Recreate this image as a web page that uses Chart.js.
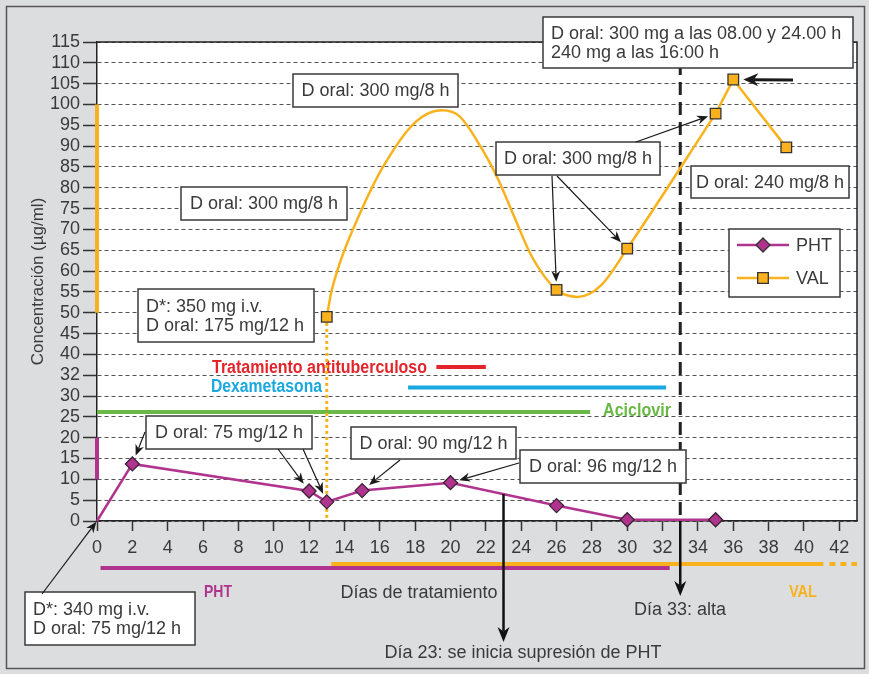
<!DOCTYPE html>
<html>
<head>
<meta charset="utf-8">
<script src="https://cdn.jsdelivr.net/npm/chart.js@4/dist/chart.umd.min.js"></script>
<style>
  html, body { margin: 0; padding: 0; background: #dcdddf; }
  canvas { display: block; }
</style>
</head>
<body>
<canvas id="levelsChart" width="869" height="674"></canvas>
<script>
// niveles plasmáticos (µg/ml) por día de tratamiento
const phtDays = [0, 2, 12, 13, 15, 20, 26, 30, 35];
const phtLevels = [0, 13.7, 7.2, 4.6, 7.3, 9.2, 3.7, 0.3, 0.3];
const valDays = [13, 26, 30, 35, 36, 39];
const valLevels = [49, 55.5, 65.4, 97.8, 106, 89.7];
// trazado de la curva de VAL entre determinaciones
const valCurveDays = [13, 13.25, 13.8, 14.8, 16.1, 18, 19.5, 20.5, 21.8, 22.7, 23.6, 24.6, 26, 27.2, 28.5, 30, 35];
const valCurveLevels = [49, 54.8, 62.7, 73.1, 84.4, 95.7, 98.6, 97.2, 89.2, 82, 73.1, 63.5, 55.5, 53.8, 56.5, 65.4, 97.8];

const yTickLabels = ['0', '5', '10', '15', '20', '25', '30', '32', '40', '45', '50', '55', '60', '65', '70', '75', '80', '85', '90', '95', '100', '105', '110', '115'];

// márgenes terapéuticos
const phtRange = [10, 20];
const valRange = [50, 100];

// tratamientos concomitantes (días)
const treatments = ['Tratamiento antituberculoso', 'Dexametasona', 'Aciclovir'];
const treatStart = [19.2, 17.6, 0];
const treatEnd = [22.0, 32.2, 27.9];

// periodos de administración
const phtPeriod = [0.2, 32.4];
const valPeriod = [13.25, 41.1, 43];

const eventDays = [23, 33];
const eventLabels = ['Día 23: se inicia supresión de PHT', 'Día 33: alta'];

const phtColor = '#b0348e';
const valColor = '#f9b21d';
const textColor = '#3a3a3a';
const FONT = '"Liberation Sans", Arial, sans-serif';

const treatStyle = [
    { color: '#e4242b', y: 367, labelX: 427, labelY: 368, align: 'right', w: 215 },
    { color: '#1aa8e0', y: 387.5, labelX: 211, labelY: 387, align: 'left', w: 111 },
    { color: '#6ab845', y: 412, labelX: 603, labelY: 411.5, align: 'left', w: 68 }
];

const boxes = [
    { x: 25, y: 592, w: 170, h: 53, lines: ['D*: 340 mg i.v.', 'D oral: 75 mg/12 h'] },
    { x: 138, y: 289, w: 176, h: 53, lines: ['D*: 350 mg i.v.', 'D oral: 175 mg/12 h'] },
    { x: 181, y: 187, w: 166, h: 33, lines: ['D oral: 300 mg/8 h'] },
    { x: 293, y: 74, w: 165, h: 33, lines: ['D oral: 300 mg/8 h'] },
    { x: 496, y: 142, w: 164, h: 33, lines: ['D oral: 300 mg/8 h'] },
    { x: 543, y: 17, w: 310, h: 51, lines: ['D oral: 300 mg a las 08.00 y 24.00 h', '240 mg a las 16:00 h'] },
    { x: 691, y: 166, w: 158, h: 32, lines: ['D oral: 240 mg/8 h'] },
    { x: 146, y: 416, w: 166, h: 33, lines: ['D oral: 75 mg/12 h'] },
    { x: 351, y: 427, w: 165, h: 32, lines: ['D oral: 90 mg/12 h'] },
    { x: 520, y: 450, w: 166, h: 33, lines: ['D oral: 96 mg/12 h'] }
];

// flechas: desde el recuadro hasta el punto señalado
const arrows = [
    { from: [42, 594], s: 'pht', i: 0, gap: 1 },
    { from: [145, 432], s: 'pht', i: 1, gap: 9 },
    { from: [278, 449], s: 'pht', i: 2, gap: 9 },
    { from: [303, 449], s: 'pht', i: 3, gap: 9 },
    { from: [400, 460], s: 'pht', i: 4, gap: 9 },
    { from: [519, 463], s: 'pht', i: 5, gap: 9 },
    { from: [552, 176], s: 'val', i: 1, gap: 8 },
    { from: [557, 176], s: 'val', i: 2, gap: 9 },
    { from: [636, 142], s: 'val', i: 3, gap: 8 },
    { from: [793, 80], s: 'val', i: 4, gap: 10, thick: true }
];

function pts(xs, ys) {
    return xs.map((d, i) => ({ x: d, y: ys[i] }));
}

function drawArrow(ctx, x1, y1, x2, y2, lw, len, half) {
    const a = Math.atan2(y2 - y1, x2 - x1);
    const c = Math.cos(a), s = Math.sin(a);
    ctx.lineWidth = lw;
    ctx.beginPath();
    ctx.moveTo(x1, y1);
    ctx.lineTo(x2 - c * len * 0.7, y2 - s * len * 0.7);
    ctx.stroke();
    ctx.beginPath();
    ctx.moveTo(x2, y2);
    ctx.lineTo(x2 - c * len - s * half, y2 - s * len + c * half);
    ctx.lineTo(x2 - c * len * 0.7, y2 - s * len * 0.7);
    ctx.lineTo(x2 - c * len + s * half, y2 - s * len - c * half);
    ctx.closePath();
    ctx.fill();
}

function fitText(ctx, text, x, y, width, align) {
    const m = ctx.measureText(text).width;
    const k = width ? width / m : 1;
    ctx.save();
    ctx.translate(x, y);
    ctx.scale(k, 1);
    ctx.textAlign = align;
    ctx.fillText(text, 0, 0);
    ctx.restore();
}

const overlay = {
    id: 'overlay',
    beforeDraw(chart) {
        const { ctx, chartArea: a } = chart;
        ctx.save();
        ctx.fillStyle = '#dcdddf';
        ctx.fillRect(0, 0, chart.width, chart.height);
        ctx.strokeStyle = '#555';
        ctx.lineWidth = 1.5;
        ctx.strokeRect(6.5, 6.5, 858, 662);
        ctx.fillStyle = '#ffffff';
        ctx.fillRect(a.left, a.top, a.right - a.left, a.bottom - a.top);
        ctx.restore();
    },
    beforeDatasetsDraw(chart) {
        const { ctx, chartArea: a } = chart;
        const xs = chart.scales.x, ys = chart.scales.y;
        ctx.save();
        // marco superior y derecho
        ctx.strokeStyle = '#222';
        ctx.lineWidth = 1.5;
        ctx.beginPath();
        ctx.moveTo(a.left, a.top);
        ctx.lineTo(a.right, a.top);
        ctx.lineTo(a.right, a.bottom);
        ctx.stroke();

        // márgenes terapéuticos sobre el eje
        ctx.lineWidth = 4;
        ctx.strokeStyle = valColor;
        ctx.beginPath();
        ctx.moveTo(a.left, ys.getPixelForValue(valRange[1]));
        ctx.lineTo(a.left, ys.getPixelForValue(valRange[0]));
        ctx.stroke();
        ctx.strokeStyle = phtColor;
        ctx.beginPath();
        ctx.moveTo(a.left, ys.getPixelForValue(phtRange[1]));
        ctx.lineTo(a.left, ys.getPixelForValue(phtRange[0]));
        ctx.stroke();

        // tratamientos concomitantes
        treatments.forEach((name, i) => {
            const st = treatStyle[i];
            ctx.strokeStyle = st.color;
            ctx.lineWidth = 4;
            ctx.beginPath();
            ctx.moveTo(xs.getPixelForValue(treatStart[i]), st.y);
            ctx.lineTo(xs.getPixelForValue(treatEnd[i]), st.y);
            ctx.stroke();
            ctx.fillStyle = st.color;
            ctx.font = 'bold 18px ' + FONT;
            ctx.textBaseline = 'middle';
            fitText(ctx, name, st.labelX, st.labelY, st.w, st.align);
        });

        // línea punteada en el inicio de VAL
        ctx.strokeStyle = valColor;
        ctx.lineWidth = 3;
        ctx.setLineDash([3, 3]);
        ctx.beginPath();
        ctx.moveTo(xs.getPixelForValue(valDays[0]), ys.getPixelForValue(valLevels[0]));
        ctx.lineTo(xs.getPixelForValue(valDays[0]), a.bottom);
        ctx.stroke();

        // alta: línea discontinua
        const xAlta = xs.getPixelForValue(eventDays[1]);
        ctx.strokeStyle = '#222';
        ctx.setLineDash([13, 7]);
        ctx.beginPath();
        ctx.moveTo(xAlta, a.top);
        ctx.lineTo(xAlta, a.bottom);
        ctx.stroke();
        ctx.setLineDash([]);
        ctx.restore();
    },
    afterDatasetsDraw(chart) {
        const { ctx, chartArea: a } = chart;
        const xs = chart.scales.x, ys = chart.scales.y;
        ctx.save();
        ctx.textBaseline = 'middle';

        // periodos de administración bajo el eje
        ctx.lineWidth = 4;
        ctx.strokeStyle = phtColor;
        ctx.beginPath();
        ctx.moveTo(xs.getPixelForValue(phtPeriod[0]), 568);
        ctx.lineTo(xs.getPixelForValue(phtPeriod[1]), 568);
        ctx.stroke();
        ctx.strokeStyle = valColor;
        ctx.beginPath();
        ctx.moveTo(xs.getPixelForValue(valPeriod[0]), 564);
        ctx.lineTo(xs.getPixelForValue(valPeriod[1]), 564);
        ctx.stroke();
        ctx.setLineDash([6, 5]);
        ctx.beginPath();
        ctx.moveTo(xs.getPixelForValue(valPeriod[1]) + 6, 564);
        ctx.lineTo(xs.getPixelForValue(valPeriod[2]), 564);
        ctx.stroke();
        ctx.setLineDash([]);

        ctx.font = 'bold 17px ' + FONT;
        ctx.fillStyle = phtColor;
        fitText(ctx, 'PHT', 218, 592, 28, 'center');
        ctx.fillStyle = valColor;
        fitText(ctx, 'VAL', 803, 592, 28, 'center');

        // títulos de ejes
        ctx.fillStyle = textColor;
        ctx.font = '18px ' + FONT;
        ctx.textAlign = 'center';
        ctx.fillText('Días de tratamiento', 419, 593);
        ctx.save();
        ctx.translate(38, (a.top + a.bottom) / 2);
        ctx.rotate(-Math.PI / 2);
        ctx.font = '17px ' + FONT;
        ctx.fillText('Concentración (µg/ml)', 0, 0);
        ctx.restore();

        // eventos: supresión de PHT y alta
        ctx.strokeStyle = '#111';
        ctx.fillStyle = '#111';
        const x23 = xs.getPixelForValue(eventDays[0]);
        drawArrow(ctx, x23, 494, x23, 642, 2.5, 15, 6);
        const x33 = xs.getPixelForValue(eventDays[1]);
        drawArrow(ctx, x33, a.bottom, x33, 596, 2.5, 15, 6);
        ctx.fillStyle = textColor;
        ctx.font = '18px ' + FONT;
        ctx.textAlign = 'center';
        ctx.fillText(eventLabels[0], 523, 653);
        ctx.fillText(eventLabels[1], 680, 610);

        // recuadros de dosis
        ctx.font = '18px ' + FONT;
        boxes.forEach(b => {
            ctx.fillStyle = '#ffffff';
            ctx.fillRect(b.x, b.y, b.w, b.h);
            ctx.strokeStyle = '#3a3a3a';
            ctx.lineWidth = 1.5;
            ctx.strokeRect(b.x, b.y, b.w, b.h);
            ctx.fillStyle = textColor;
            if (b.lines.length === 1) {
                ctx.textAlign = 'center';
                ctx.fillText(b.lines[0], b.x + b.w / 2, b.y + b.h / 2 + 1);
            } else {
                ctx.textAlign = 'left';
                const lh = 18.5;
                const y0 = b.y + b.h / 2 - lh / 2 + 1;
                b.lines.forEach((t, k) => ctx.fillText(t, b.x + 8, y0 + k * lh));
            }
        });

        // flechas
        ctx.strokeStyle = '#1a1a1a';
        ctx.fillStyle = '#1a1a1a';
        arrows.forEach(ar => {
            const days = ar.s === 'pht' ? phtDays : valDays;
            const lv = ar.s === 'pht' ? phtLevels : valLevels;
            const px = xs.getPixelForValue(days[ar.i]);
            const py = ys.getPixelForValue(lv[ar.i]);
            const dx = px - ar.from[0], dy = py - ar.from[1];
            const d = Math.hypot(dx, dy);
            const tx = px - dx / d * ar.gap, ty = py - dy / d * ar.gap;
            if (ar.thick) drawArrow(ctx, ar.from[0], ar.from[1], tx, ty, 3, 15, 6.5);
            else drawArrow(ctx, ar.from[0], ar.from[1], tx, ty, 1.2, 11, 4.5);
        });

        // leyenda
        const L = { x: 729, y: 229, w: 111, h: 68 };
        ctx.fillStyle = '#ffffff';
        ctx.fillRect(L.x, L.y, L.w, L.h);
        ctx.strokeStyle = '#3a3a3a';
        ctx.lineWidth = 1.5;
        ctx.strokeRect(L.x, L.y, L.w, L.h);
        const rows = [
            { label: 'PHT', color: phtColor, style: 'rectRot', r: 7, y: 245 },
            { label: 'VAL', color: valColor, style: 'rect', r: 7.5, y: 278 }
        ];
        rows.forEach(r => {
            ctx.strokeStyle = r.color;
            ctx.lineWidth = 2.5;
            ctx.beginPath();
            ctx.moveTo(737, r.y);
            ctx.lineTo(789, r.y);
            ctx.stroke();
            ctx.fillStyle = r.color;
            ctx.strokeStyle = '#333';
            ctx.lineWidth = 1.3;
            Chart.helpers.drawPoint(ctx, { pointStyle: r.style, rotation: 0, radius: r.r, borderWidth: 1.3 }, 763, r.y);
            ctx.fillStyle = textColor;
            ctx.font = '18px ' + FONT;
            ctx.textAlign = 'left';
            ctx.fillText(r.label, 796, r.y + 1);
        });
        ctx.restore();
    }
};

Chart.defaults.font.family = FONT;

const ctx = document.getElementById('levelsChart').getContext('2d');
const levelsChart = new Chart(ctx, {
    type: 'line',
    data: {
        datasets: [
            {
                label: 'VAL',
                data: pts(valDays, valLevels),
                showLine: false,
                pointStyle: 'rect',
                pointRadius: 7.5,
                pointBackgroundColor: valColor,
                pointBorderColor: '#333',
                pointBorderWidth: 1.3,
                clip: false
            },
            {
                label: 'PHT',
                data: pts(phtDays, phtLevels),
                borderColor: phtColor,
                borderWidth: 2.5,
                tension: 0,
                pointStyle: 'rectRot',
                pointRadius: c => (c.dataIndex === 0 ? 0 : 7),
                pointBackgroundColor: phtColor,
                pointBorderColor: '#3a2335',
                pointBorderWidth: 1.3,
                clip: false
            },
            {
                label: 'VAL curva',
                data: pts(valCurveDays, valCurveLevels),
                borderColor: valColor,
                borderWidth: 2.5,
                pointRadius: 0,
                cubicInterpolationMode: 'monotone'
            },
            {
                label: 'VAL final',
                data: pts(valDays.slice(3), valLevels.slice(3)),
                borderColor: valColor,
                borderWidth: 2.5,
                pointRadius: 0,
                tension: 0
            }
        ]
    },
    options: {
        responsive: false,
        animation: false,
        layout: { padding: { top: 42, right: 12, left: 0, bottom: 0 } },
        plugins: {
            legend: { display: false },
            tooltip: { enabled: false }
        },
        scales: {
            x: {
                type: 'linear',
                min: 0,
                max: 43,
                afterFit: s => { s.height = 153; },
                border: { color: '#222', width: 1.5 },
                grid: {
                    drawOnChartArea: false,
                    drawTicks: true,
                    tickLength: 10,
                    tickColor: '#333',
                    tickWidth: 1.5
                },
                ticks: {
                    stepSize: 2,
                    includeBounds: false,
                    autoSkip: false,
                    maxRotation: 0,
                    padding: 6,
                    color: textColor,
                    font: { size: 18 }
                }
            },
            y: {
                type: 'linear',
                min: 0,
                max: 115,
                afterFit: s => { s.width = 97; },
                border: { color: '#222', width: 1.5, dash: [4, 3] },
                grid: {
                    color: '#555',
                    lineWidth: 1,
                    drawTicks: true,
                    tickLength: 14,
                    tickColor: '#333',
                    tickWidth: 1.5,
                    tickBorderDash: []
                },
                ticks: {
                    stepSize: 5,
                    autoSkip: false,
                    padding: 3,
                    color: textColor,
                    font: { size: 18, lineHeight: 1 },
                    callback: v => yTickLabels[Math.round(v / 5)]
                }
            }
        }
    },
    plugins: [overlay]
});
</script>
</body>
</html>
